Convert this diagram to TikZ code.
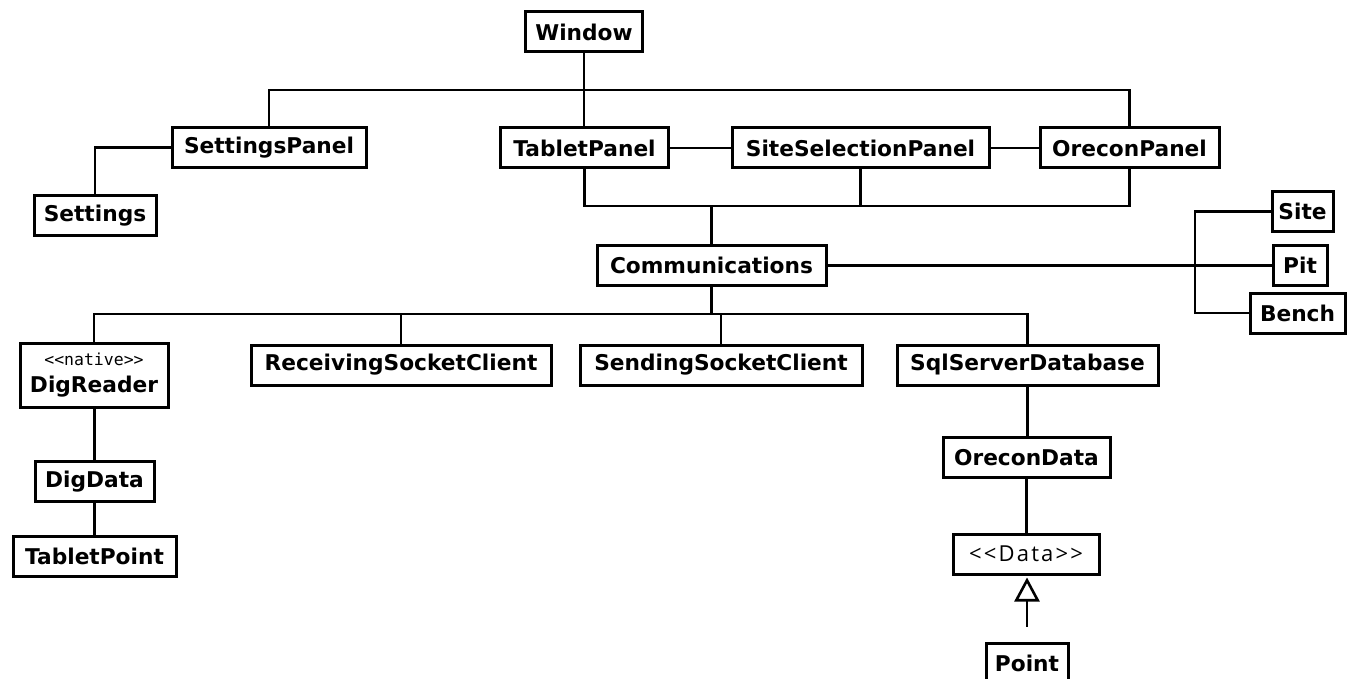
\documentclass[tikz,border=0pt]{standalone}
\usepackage{fontspec}
\setmainfont{DejaVu Sans}
\newfontfamily\stereomono{DejaVu Sans Mono}
\newfontfamily\stereosans[LetterSpace=10]{Open Sans}
\usetikzlibrary{arrows.meta}

\begin{document}
\begin{tikzpicture}[x=1pt, y=-1pt,
  cls/.style={draw, line width=3pt, fill=white, inner sep=0pt,
    minimum height=40pt, font=\fontsize{21.7}{24}\selectfont\bfseries},
  link/.style={line width=2.6pt},
  generalize/.style={link, -{Triangle[open, width=25pt, length=24pt, line width=2.6pt]}}]
\useasboundingbox (0,0) rectangle (1352,679);

% top level
\node[cls, minimum width=117] (win) at (584,32) {Window};
\node[cls, minimum width=194] (spanel) at (269,147.5) {SettingsPanel};
\node[cls, minimum width=168] (tablet) at (584.5,148) {TabletPanel};
\node[cls, minimum width=257] (sitesel) at (860.5,148) {SiteSelectionPanel};
\node[cls, minimum width=179] (opanel) at (1129.5,148) {OreconPanel};
\node[cls, minimum width=122] (settings) at (95,216) {Settings};

% communications layer
\node[cls, minimum width=229] (comm) at (711.5,265.5) {Communications};
\node[cls, minimum width=61] (site) at (1302.5,211.5) {Site};
\node[cls, minimum width=54] (pit) at (1300,265.5) {Pit};
\node[cls, minimum width=95] (bench) at (1297.5,313) {Bench};

% clients and data sources
\node[cls, minimum width=148, minimum height=64, align=center] (dig) at (94,375)
  {{\stereomono\mdseries\fontsize{16.5}{18}\selectfont {<}{<}native{>}{>}}\\[3pt]DigReader};
\node[cls, minimum width=300] (recv) at (401,365) {ReceivingSocketClient};
\node[cls, minimum width=282] (send) at (721,365) {SendingSocketClient};
\node[cls, minimum width=261] (sql) at (1027.5,365) {SqlServerDatabase};

% lower level
\node[cls, minimum width=119] (digdata) at (94.5,481.5) {DigData};
\node[cls, minimum width=163] (tpoint) at (94.5,556) {TabletPoint};
\node[cls, minimum width=167] (odata) at (1026.5,457.5) {OreconData};
\node[cls, minimum width=146, font=\stereosans\fontsize{22}{24}\selectfont] (data) at (1026,554) {{<}{<}Data{>}{>}};
\node[cls, minimum width=82] (point) at (1027,663) {Point};

% bus coordinates
\coordinate (bar1) at (0,90);
\coordinate (bar2) at (0,206);
\coordinate (bar3) at (0,314);
\coordinate (fork) at (1195,265.5);
\coordinate (pend) at ([yshift=15pt]point.north);

% window to panels
\draw[link] (win.south) -- (win.south |- tablet.north);
\draw[link] (spanel.north) -- (spanel.north |- bar1) -- (opanel.north |- bar1) -- (opanel.north);
\draw[link] (spanel.west) -| (settings.north);
\draw[link] (tablet.east) -- (sitesel.west);
\draw[link] (sitesel.east) -- (opanel.west);

% panels to communications
\draw[link] (tablet.south) -- (tablet.south |- bar2) -- (opanel.south |- bar2) -- (opanel.south);
\draw[link] (sitesel.south) -- (sitesel.south |- bar2);
\draw[link] (comm.north) -- (comm.north |- bar2);

% communications to site / pit / bench
\draw[link] (comm.east) -- (comm.east -| pit.west);
\draw[link] (site.west) -- (site.west -| fork) -- (bench.west -| fork) -- (bench.west);

% communications to clients
\draw[link] (comm.south) -- (comm.south |- bar3);
\draw[link] (dig.north) -- (dig.north |- bar3) -- (sql.north |- bar3) -- (sql.north);
\draw[link] (recv.north) -- (recv.north |- bar3);
\draw[link] (send.north) -- (send.north |- bar3);

% data chains
\draw[link] (dig.south) -- (dig.south -| digdata.north) -- (digdata.north);
\draw[link] (digdata.south) -- (tpoint.north);
\draw[link] (sql.south) -- (odata.north -| sql.south);
\draw[link] (odata.south) -- (data.north -| odata.south);
\draw[generalize] (pend) -- ([yshift=-2pt]data.south -| pend);
\end{tikzpicture}
\end{document}
